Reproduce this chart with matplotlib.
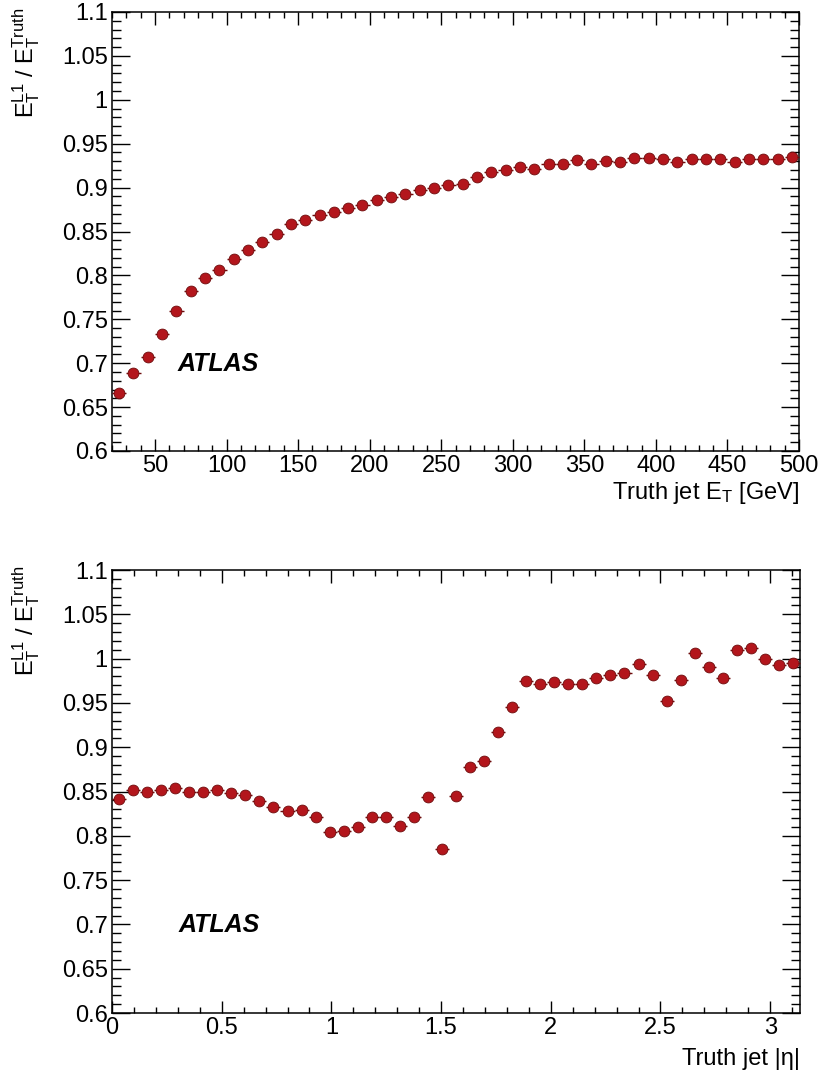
import matplotlib
matplotlib.use("Agg")
from matplotlib import pyplot as plt
from matplotlib.ticker import MultipleLocator, FuncFormatter
import numpy as np

plt.rcParams['font.family'] = ['Liberation Sans', 'DejaVu Sans']
plt.rcParams['mathtext.fontset'] = 'custom'
plt.rcParams['mathtext.rm'] = 'Liberation Sans'
plt.rcParams['mathtext.it'] = 'Liberation Sans:italic'

# response vs truth jet ET (10 GeV bins)
et_centers = np.arange(25, 500, 10)
et_response = [0.666, 0.689, 0.707, 0.733, 0.760, 0.782, 0.797, 0.806, 0.819, 0.829,
               0.838, 0.847, 0.858, 0.863, 0.869, 0.872, 0.877, 0.880, 0.886, 0.889,
               0.893, 0.897, 0.900, 0.903, 0.9045, 0.9125, 0.918, 0.920, 0.9235, 0.921,
               0.9265, 0.927, 0.932, 0.9265, 0.930, 0.929, 0.934, 0.934, 0.933, 0.9295,
               0.933, 0.933, 0.933, 0.9295, 0.933, 0.933, 0.933, 0.935]

# response vs truth jet |eta| (49 bins of 0.064)
eta_width = 0.064
eta_centers = eta_width / 2 + eta_width * np.arange(49)
eta_response = [0.841, 0.8515, 0.850, 0.8515, 0.8545, 0.849, 0.8496, 0.8515, 0.848, 0.846,
                0.8395, 0.832, 0.828, 0.829, 0.8207, 0.8045, 0.8056, 0.8094, 0.8207, 0.8214,
                0.8105, 0.8207, 0.844, 0.7846, 0.8451, 0.8778, 0.8846, 0.9166, 0.9455, 0.9748,
                0.9711, 0.9737, 0.9718, 0.9718, 0.9786, 0.9816, 0.9835, 0.9944, 0.9816, 0.9523,
                0.9756, 1.0068, 0.9906, 0.9786, 1.0094, 1.0124, 0.9993, 0.9929, 0.9955]

W, H = 825, 1075
fig = plt.figure(figsize=(W / 100, H / 100), dpi=100)

face = '#b3161c'
edge = '#6e0c0c'
ylab = r'$\mathregular{E_T^{L1}\ /\ E_T^{Truth}}$'
fmt = FuncFormatter(lambda v, p: '%g' % round(v, 3))


def style_axes(ax, xmajor, xminor):
    ax.set_ylim(0.6, 1.1)
    ax.xaxis.set_major_locator(MultipleLocator(xmajor))
    ax.xaxis.set_minor_locator(MultipleLocator(xminor))
    ax.yaxis.set_major_locator(MultipleLocator(0.05))
    ax.yaxis.set_minor_locator(MultipleLocator(0.01))
    ax.xaxis.set_major_formatter(fmt)
    ax.yaxis.set_major_formatter(fmt)
    ax.tick_params(which='both', direction='in', top=True, right=True,
                   labelsize=17, width=1.0, pad=3)
    ax.tick_params(axis='y', which='major', length=13)
    ax.tick_params(axis='y', which='minor', length=6.5)
    ax.tick_params(axis='x', which='major', length=9)
    ax.tick_params(axis='x', which='minor', length=4.5)
    for s in ax.spines.values():
        s.set_linewidth(1.1)
    ax.set_ylabel(ylab, fontsize=17, loc='top')
    ax.yaxis.set_label_coords(-0.102, 1.01)
    ax.text(0.096, 0.198, 'ATLAS', transform=ax.transAxes, fontsize=18,
            fontweight='bold', fontstyle='italic', va='center', ha='left')


# top panel
ax1 = fig.add_axes([112 / W, 1 - 451 / H, 687 / W, 439 / H])
ax1.errorbar(et_centers, et_response, xerr=5, fmt='o', ms=7.8, mfc=face, mec=edge,
             mew=0.6, ecolor=edge, elinewidth=1.0, capsize=0, clip_on=False, zorder=3)
ax1.set_xlim(20, 500)
style_axes(ax1, 50, 10)
ax1.set_xlabel(r'Truth jet E$_\mathregular{T}$ [GeV]', fontsize=17, loc='right')
ax1.xaxis.set_label_coords(1.0, -0.066)

# bottom panel
ax2 = fig.add_axes([112 / W, 1 - 1013 / H, 688 / W, 443 / H])
ax2.errorbar(eta_centers, eta_response, xerr=eta_width / 2, fmt='o', ms=7.8, mfc=face,
             mec=edge, mew=0.6, ecolor=edge, elinewidth=1.0, capsize=0, clip_on=False,
             zorder=3)
ax2.set_xlim(0, 3.136)
style_axes(ax2, 0.5, 0.1)
ax2.set_xlabel('Truth jet |η|', fontsize=17, loc='right')
ax2.xaxis.set_label_coords(1.0, -0.079)

fig.savefig('out.png', dpi=100)
